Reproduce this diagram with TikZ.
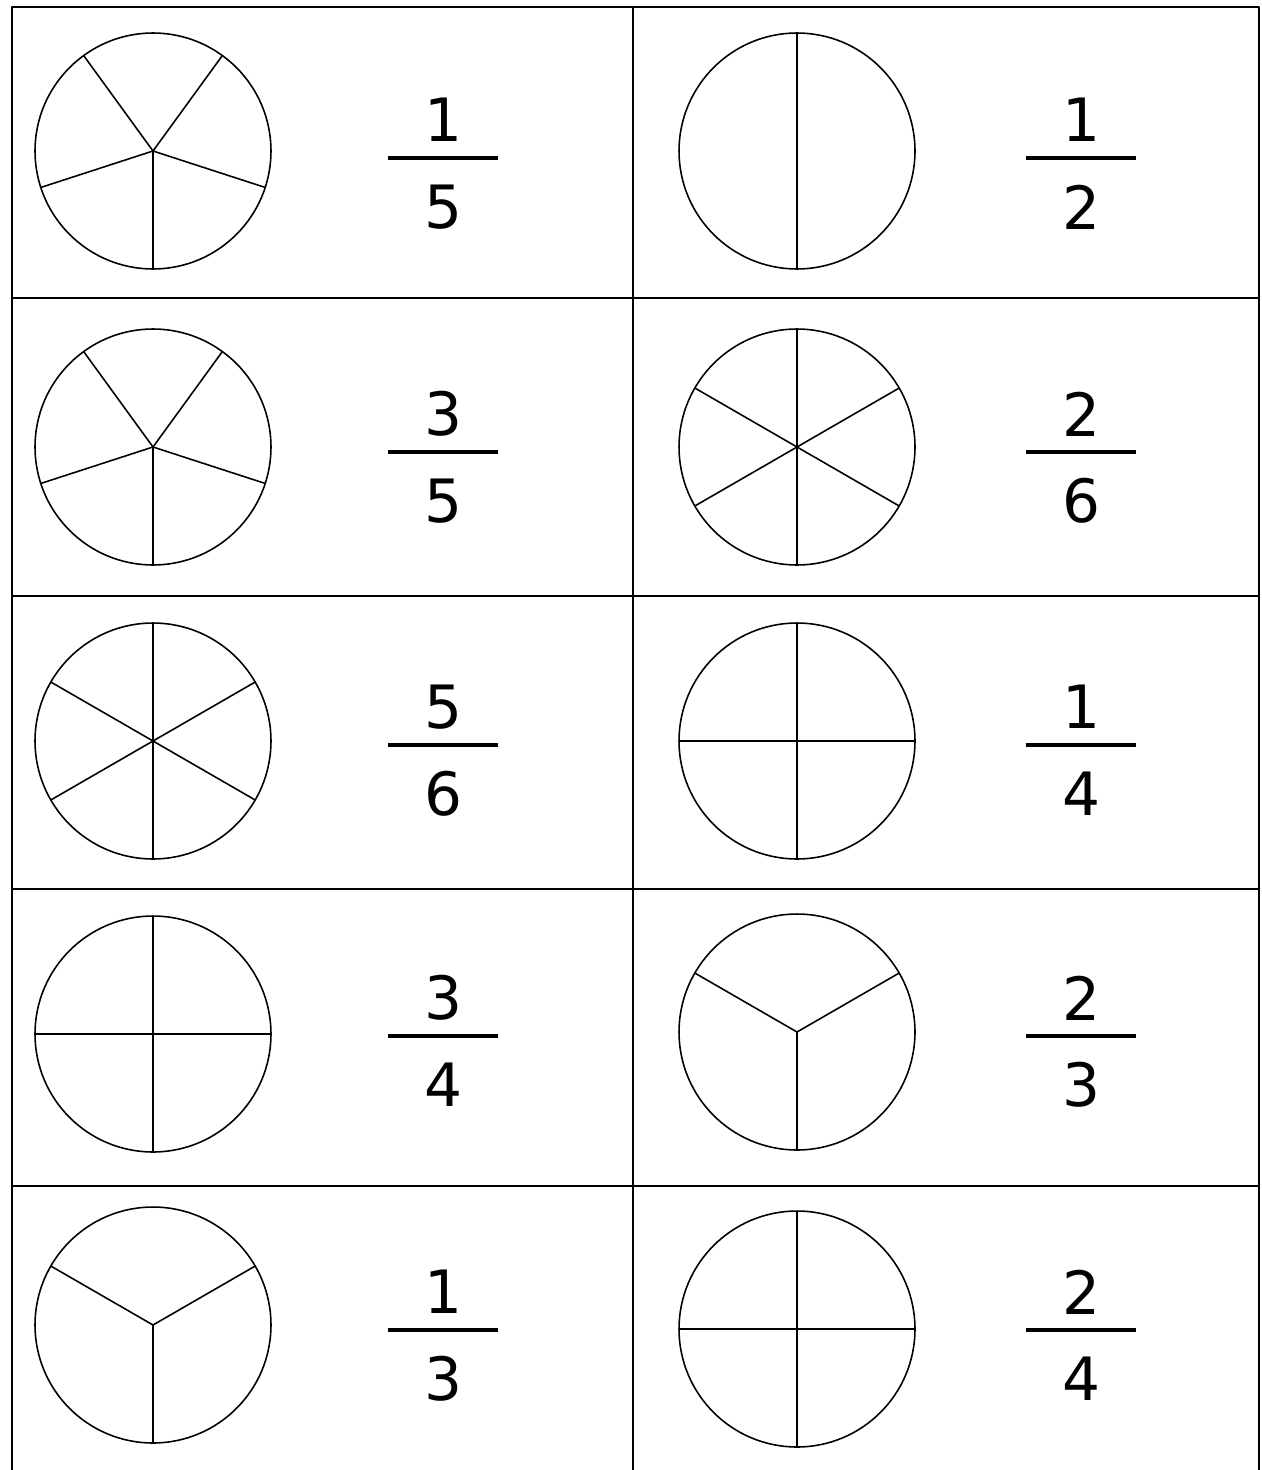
\documentclass[tikz,border=0pt]{standalone}
\usepackage{fontspec}
\setmainfont{DejaVu Sans}
\begin{document}
\begin{tikzpicture}[x=0.02cm, y=-0.02cm, line join=round]
\tikzset{
  pie/.style={circle, draw, line width=0.9pt, minimum size=4.72cm, inner sep=0pt, outer sep=0pt},
  spoke/.style={line width=0.9pt},
  digit/.style={font=\fontsize{34}{40}\selectfont, inner sep=0pt},
  fracbar/.style={line width=2.8pt},
  grid/.style={line width=1.4pt}
}
\useasboundingbox (0,0) rectangle (1261,1470);
% table
\draw[grid] (12,1470) -- (12,7) -- (1259,7) -- (1259,1470);
\draw[grid] (633,7) -- (633,1470);
\foreach \y in {298,596,889,1186} {\draw[grid] (12,\y) -- (1259,\y);}

% circles, cut into parts
\foreach \p/\px/\py/\angs in {
    pieA/153/151/{270,342,54,126,198},
    pieB/153/447/{270,342,54,126,198},
    pieC/153/741/{30,90,150,210,270,330},
    pieD/153/1034/{0,90,180,270},
    pieE/153/1325/{270,30,150},
    pieF/797/151/{90,270},
    pieG/797/447/{30,90,150,210,270,330},
    pieH/797/741/{0,90,180,270},
    pieI/797/1032/{270,30,150},
    pieJ/797/1329/{0,90,180,270}} {
  \node[pie] (\p) at (\px,\py) {};
  \foreach \a in \angs {\draw[spoke] (\p.center) -- (\p.\a);}
}

% fractions
\foreach \f/\fx/\fy/\fn/\fd in {
    fracA/443/158/1/5, fracB/443/452/3/5, fracC/443/745/5/6,
    fracD/443/1036/3/4, fracE/443/1330/1/3,
    fracF/1081/158/1/2, fracG/1081/452/2/6, fracH/1081/745/1/4,
    fracI/1081/1036/2/3, fracJ/1081/1330/2/4} {
  \node[digit] (\f num) at (\fx,\fy-38) {\fn};
  \node[digit] (\f den) at (\fx,\fy+49) {\fd};
  \coordinate (\f l) at (\fx-55,\fy);
  \coordinate (\f r) at (\fx+55,\fy);
  \draw[fracbar] (\f l) -- (\f r);
}
\end{tikzpicture}
\end{document}
